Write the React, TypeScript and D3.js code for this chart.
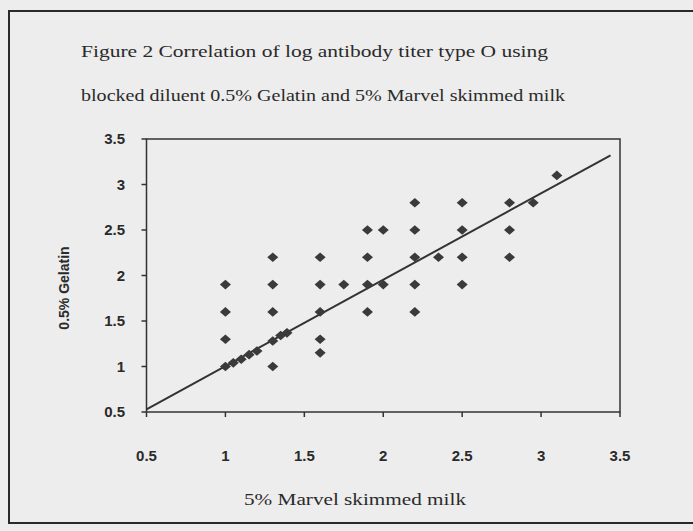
import React from "react";
import * as d3 from "d3";

const titleLines = [
  "Figure 2 Correlation of log antibody titer type O using",
  "blocked diluent 0.5% Gelatin and 5% Marvel skimmed milk",
];
const xTitle = "5% Marvel skimmed milk";
const yTitle = "0.5% Gelatin";
const xTicks = [0.5, 1, 1.5, 2, 2.5, 3, 3.5];
const yTicks = [0.5, 1, 1.5, 2, 2.5, 3, 3.5];

// x: 5% Marvel skimmed milk, y: 0.5% Gelatin
const milk = [
  1.0, 1.0, 1.0, 1.0,
  1.05, 1.1, 1.15, 1.2,
  1.3, 1.3, 1.3, 1.3, 1.3,
  1.35, 1.39,
  1.6, 1.6, 1.6, 1.6, 1.6,
  1.75,
  1.9, 1.9, 1.9, 1.9,
  2.0, 2.0,
  2.2, 2.2, 2.2, 2.2, 2.2,
  2.35,
  2.5, 2.5, 2.5, 2.5,
  2.8, 2.8, 2.8,
  2.95,
  3.1,
];
const gelatin = [
  1.9, 1.6, 1.3, 1.0,
  1.04, 1.08, 1.13, 1.17,
  2.2, 1.9, 1.6, 1.28, 1.0,
  1.34, 1.37,
  2.2, 1.9, 1.6, 1.3, 1.15,
  1.9,
  2.5, 2.2, 1.9, 1.6,
  2.5, 1.9,
  2.8, 2.5, 2.2, 1.9, 1.6,
  2.2,
  2.8, 2.5, 2.2, 1.9,
  2.8, 2.5, 2.2,
  2.8,
  3.1,
];
const trendX = [0.5, 3.44];
const trendY = [0.53, 3.32];

const W = 693;
const H = 531;
const ink = "#333";

export default function App() {
  const x = d3.scaleLinear().domain([0.5, 3.5]).range([146.5, 620]);
  const y = d3.scaleLinear().domain([0.5, 3.5]).range([412, 139]);
  const line = d3
    .line<number>()
    .x((d) => x(d))
    .y((d, i) => y(trendY[i]));
  const diamond = (cx: number, cy: number) => {
    const p = d3.path();
    p.moveTo(cx, cy - 4.8);
    p.lineTo(cx + 5.5, cy);
    p.lineTo(cx, cy + 4.8);
    p.lineTo(cx - 5.5, cy);
    p.closePath();
    return p.toString();
  };
  const [x0, x1] = x.range();
  const [y0, y1] = y.range();
  return (
    <svg
      width={W}
      height={H}
      style={{ position: "absolute", left: 0, top: 0 }}
      xmlns="http://www.w3.org/2000/svg"
    >
      <rect x={0} y={0} width={W} height={H} fill="#ededed" />
      <rect x={9} y={11} width={W} height={512} fill="none" stroke="#2a2a2a" strokeWidth={2} />
      <g fontFamily="'Liberation Serif', 'DejaVu Serif', serif" fill="#2a2a2a">
        <text x={81} y={57} fontSize={16} textLength={467} lengthAdjust="spacingAndGlyphs">
          {titleLines[0]}
        </text>
        <text x={81} y={101} fontSize={16} textLength={484} lengthAdjust="spacingAndGlyphs">
          {titleLines[1]}
        </text>
        <text x={244} y={505} fontSize={17} textLength={222} lengthAdjust="spacingAndGlyphs">
          {xTitle}
        </text>
      </g>
      <text
        transform={`translate(69, 288) rotate(-90)`}
        textAnchor="middle"
        fontFamily="'Liberation Sans', Arial, sans-serif"
        fontWeight="bold"
        fontSize={14}
        fill="#2a2a2a"
      >
        {yTitle}
      </text>
      {/* plot frame */}
      <rect x={x0} y={y1} width={x1 - x0} height={y0 - y1} fill="none" stroke={ink} strokeWidth={1.5} />
      <g fontFamily="'Liberation Sans', Arial, sans-serif" fontSize={15} fill="#2a2a2a" fontWeight="bold">
        {xTicks.map((t) => (
          <g key={"x" + t}>
            <line x1={x(t)} x2={x(t)} y1={y0} y2={y0 + 5} stroke={ink} strokeWidth={1.5} />
            <text x={x(t)} y={461} textAnchor="middle">
              {String(t)}
            </text>
          </g>
        ))}
        {yTicks.map((t) => (
          <g key={"y" + t}>
            <line x1={x0 - 5} x2={x0} y1={y(t)} y2={y(t)} stroke={ink} strokeWidth={1.5} />
            <text x={125} y={y(t) + 5} textAnchor="end">
              {String(t)}
            </text>
          </g>
        ))}
      </g>
      {/* trend line */}
      <path d={line(trendX) || ""} fill="none" stroke={ink} strokeWidth={2} />
      {/* points */}
      <g fill="#3a3a3a">
        {milk.map((m, i) => (
          <path key={i} d={diamond(x(m), y(gelatin[i]))} />
        ))}
      </g>
    </svg>
  );
}
